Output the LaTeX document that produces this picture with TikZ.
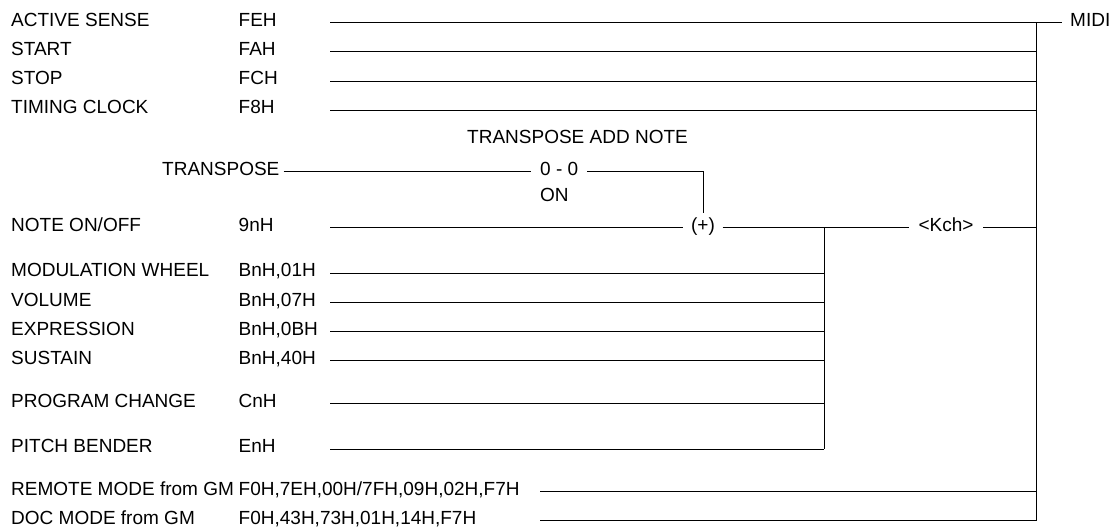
\documentclass[tikz,border=0pt]{standalone}
\usepackage{fontspec}
\setmainfont{Liberation Sans}
\begin{document}
\begin{tikzpicture}[x=1pt,y=-1pt,
  every node/.style={font=\fontsize{19}{23}\selectfont, inner sep=0pt},
  txt/.style={anchor=base west},
  wire/.style={line width=1pt, black}]
\useasboundingbox (0,0) rectangle (1113,527);
% text columns
\def\lx{11}
\def\vx{238.5}
\def\sx{330}
% top group
\node[txt] (l1) at (\lx,26.2) {ACTIVE SENSE};  \node[txt] (v1) at (\vx,26.2) {FEH};
\node[txt] (l2) at (\lx,55.4) {START};         \node[txt] (v2) at (\vx,55.4) {FAH};
\node[txt] (l3) at (\lx,84.6) {STOP};          \node[txt] (v3) at (\vx,84.6) {FCH};
\node[txt] (l4) at (\lx,113.8) {TIMING CLOCK}; \node[txt] (v4) at (\vx,113.8) {F8H};
\coordinate (s1) at (\sx,22.7);
\coordinate (s2) at (\sx,51.9);
\coordinate (s3) at (\sx,81.1);
\coordinate (s4) at (\sx,110.3);
% bus
\coordinate (bustop) at (1036,22.7);
\coordinate (busbot) at (1036,520.5);
\draw[wire] (bustop) -- (busbot);
\node[txt, inner xsep=8pt] (midi) at (1062,26.2) {MIDI};
\draw[wire] (s1) -- (s1 -| midi.west);
\draw[wire] (s2) -- (s2 -| bustop);
\draw[wire] (s3) -- (s3 -| bustop);
\draw[wire] (s4) -- (s4 -| bustop);
% transpose
\node[txt] (tan) at (467,143.5) {TRANSPOSE ADD NOTE};
\node[txt, inner xsep=4pt] (tr) at (158,175.2) {TRANSPOSE};
\node[txt, inner xsep=9pt] (zz) at (531,175.2) {0 - 0};
\node[txt] (on) at (540,201.8) {ON};
\coordinate (trl) at (0,171.7);
% note on/off
\node[txt] (l5) at (\lx,231.2) {NOTE ON/OFF}; \node[txt] (v5) at (\vx,231.2) {9nH};
\coordinate (s5) at (\sx,227.7);
\node[anchor=base, inner xsep=7.5pt, inner ysep=4pt] (plus) at (703,231.2) {(+)};
\node[anchor=base, inner xsep=9.5pt] (kch) at (946,231.2) {<Kch>};
\draw[wire] (tr.east |- trl) -- (zz.west |- trl);
\draw[wire] (zz.east |- trl) -| (plus.north);
\draw[wire] (s5) -- (s5 -| plus.west);
\draw[wire] (s5 -| plus.east) -- (s5 -| kch.west);
\draw[wire] (s5 -| kch.east) -- (s5 -| bustop);
% junction
\coordinate (jt) at (824,227.7);
\coordinate (jb) at (824,449);
\draw[wire] (jt) -- (jb);
% controllers
\node[txt] (l6) at (\lx,276.8) {MODULATION WHEEL}; \node[txt] (v6) at (\vx,276.8) {BnH,01H};
\node[txt] (l7) at (\lx,306.0) {VOLUME};           \node[txt] (v7) at (\vx,306.0) {BnH,07H};
\node[txt] (l8) at (\lx,335.2) {EXPRESSION};       \node[txt] (v8) at (\vx,335.2) {BnH,0BH};
\node[txt] (l9) at (\lx,364.4) {SUSTAIN};          \node[txt] (v9) at (\vx,364.4) {BnH,40H};
\node[txt] (l10) at (\lx,407.0) {PROGRAM CHANGE};  \node[txt] (v10) at (\vx,407.0) {CnH};
\node[txt] (l11) at (\lx,452.5) {PITCH BENDER};    \node[txt] (v11) at (\vx,452.5) {EnH};
\coordinate (s6) at (\sx,273.3);
\coordinate (s7) at (\sx,302.5);
\coordinate (s8) at (\sx,331.7);
\coordinate (s9) at (\sx,360.9);
\coordinate (s10) at (\sx,403.5);
\coordinate (s11) at (\sx,449);
\foreach \s in {s6,s7,s8,s9,s10,s11} \draw[wire] (\s) -- (\s -| jt);
% remote / doc
\node[txt] (l12) at (\lx,495.2) {REMOTE MODE from GM}; \node[txt] (v12) at (\vx,495.2) {F0H,7EH,00H/7FH,09H,02H,F7H};
\node[txt] (l13) at (\lx,524.0) {DOC MODE from GM};    \node[txt] (v13) at (\vx,524.0) {F0H,43H,73H,01H,14H,F7H};
\coordinate (s12) at (540,491.7);
\coordinate (s13) at (540,520.5);
\draw[wire] (s12) -- (s12 -| bustop);
\draw[wire] (s13) -- (s13 -| bustop);
\end{tikzpicture}
\end{document}
